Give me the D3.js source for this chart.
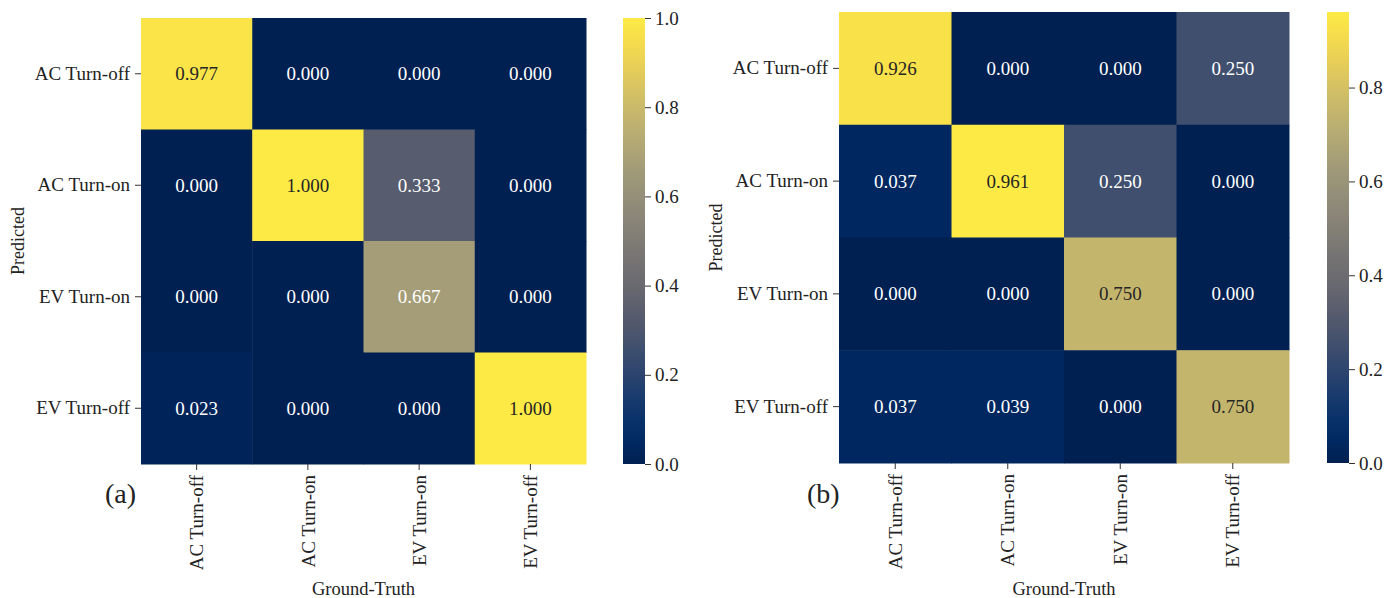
<!DOCTYPE html>
<html>
<head>
<meta charset="utf-8">
<script src="https://cdn.jsdelivr.net/npm/d3@7"></script>
<style>
  body { margin: 0; background: #fff; }
  svg text { font-family: "Liberation Serif", "Times New Roman", serif; fill: #222; }
</style>
</head>
<body>
<svg id="viz" width="1400" height="598"></svg>
<script>
// class labels (same for both axes)
var classes = ["AC Turn-off", "AC Turn-on", "EV Turn-on", "EV Turn-off"];

// rows = predicted, columns = ground truth
var matrixA = [
  [0.977, 0.000, 0.000, 0.000],
  [0.000, 1.000, 0.333, 0.000],
  [0.000, 0.000, 0.667, 0.000],
  [0.023, 0.000, 0.000, 1.000]
];
var matrixB = [
  [0.926, 0.000, 0.000, 0.250],
  [0.037, 0.961, 0.250, 0.000],
  [0.000, 0.000, 0.750, 0.000],
  [0.037, 0.039, 0.000, 0.750]
];

var ticksA = [0.0, 0.2, 0.4, 0.6, 0.8, 1.0];
var ticksB = [0.0, 0.2, 0.4, 0.6, 0.8];

const svg = d3.select("#viz");

function textColor(c) {
  // same rule as seaborn: dark text on light cells
  var rgb = d3.rgb(c);
  var lin = [rgb.r, rgb.g, rgb.b].map(function(v) {
    v = v / 255;
    return v <= 0.03928 ? v / 12.92 : Math.pow((v + 0.055) / 1.055, 2.4);
  });
  var lum = 0.2126 * lin[0] + 0.7152 * lin[1] + 0.0722 * lin[2];
  return lum > 0.408 ? "#262626" : "#ffffff";
}

function drawHeatmap(data, opts) {
  const g = svg.append("g");
  var vmax = d3.max(data.flat());

  const color = d3.scaleSequential(d3.interpolateCividis).domain([0, vmax]);

  const x = d3.scaleBand().domain(classes).range([opts.x0, opts.x1]);
  const y = d3.scaleBand().domain(classes).range([opts.y0, opts.y1]);

  // cells
  data.forEach(function(row, i) {
    row.forEach(function(v, j) {
      g.append("rect")
        .attr("x", x(classes[j]))
        .attr("y", y(classes[i]))
        .attr("width", x.bandwidth() + 0.5)
        .attr("height", y.bandwidth() + 0.5)
        .attr("fill", color(v));
      g.append("text")
        .attr("x", x(classes[j]) + x.bandwidth() / 2)
        .attr("y", y(classes[i]) + y.bandwidth() / 2)
        .attr("text-anchor", "middle")
        .attr("dominant-baseline", "central")
        .style("font-size", "19px")
        .style("fill", textColor(color(v)))
        .text(v.toFixed(3));
    });
  });

  // axes
  const xAxis = g.append("g")
    .attr("transform", `translate(0,${opts.y1})`)
    .call(d3.axisBottom(x).tickSize(6).tickPadding(4));
  xAxis.select(".domain").remove();
  xAxis.selectAll("text")
    .attr("transform", "rotate(-90)")
    .attr("text-anchor", "end")
    .attr("x", -11)
    .attr("y", 0)
    .attr("dy", "0.35em")
    .style("font-size", "19px")
    .style("font-family", "Liberation Serif")
    .style("fill", "#222");

  const yAxis = g.append("g")
    .attr("transform", `translate(${opts.x0},0)`)
    .call(d3.axisLeft(y).tickSize(6).tickPadding(5));
  yAxis.select(".domain").remove();
  yAxis.selectAll("text")
    .style("font-size", "19px")
    .style("font-family", "Liberation Serif")
    .style("fill", "#222");
  g.selectAll(".tick line").attr("stroke", "#333");

  // axis titles
  g.append("text")
    .attr("x", (opts.x0 + opts.x1) / 2)
    .attr("y", 595)
    .attr("text-anchor", "middle")
    .style("font-size", "18.5px")
    .text("Ground-Truth");
  g.append("text")
    .attr("transform", `translate(${opts.ylabX},${(opts.y0 + opts.y1) / 2}) rotate(-90)`)
    .attr("text-anchor", "middle")
    .attr("dominant-baseline", "central")
    .style("font-size", "18px")
    .text("Predicted");

  // panel letter
  g.append("text")
    .attr("x", opts.letterX)
    .attr("y", 503)
    .style("font-size", "28px")
    .text(opts.letter);

  // colorbar
  const gradId = "grad" + opts.letter.replace(/\W/g, "");
  const grad = svg.append("defs").append("linearGradient")
    .attr("id", gradId)
    .attr("x1", 0).attr("y1", 1).attr("x2", 0).attr("y2", 0);
  d3.range(0, 1.0001, 0.05).forEach(function(t) {
    grad.append("stop")
      .attr("offset", t)
      .attr("stop-color", d3.interpolateCividis(t));
  });

  const cb = d3.scaleLinear().domain([0, vmax]).range([opts.y1, opts.y0]);
  g.append("rect")
    .attr("x", opts.cbX)
    .attr("y", opts.y0)
    .attr("width", 22)
    .attr("height", opts.y1 - opts.y0)
    .attr("fill", `url(#${gradId})`);

  const cAxis = g.append("g")
    .attr("transform", `translate(${opts.cbX + 22},0)`)
    .call(d3.axisRight(cb).tickValues(opts.ticks).tickFormat(d3.format(".1f")).tickSize(6).tickPadding(4));
  cAxis.select(".domain").remove();
  cAxis.selectAll("text")
    .style("font-size", "19px")
    .style("font-family", "Liberation Serif")
    .style("fill", "#222");
  cAxis.selectAll("line").attr("stroke", "#333");
}

drawHeatmap(matrixA, {
  x0: 141, x1: 586, y0: 18, y1: 464,
  cbX: 623, ticks: ticksA, ylabX: 18, letter: "(a)", letterX: 105
});

drawHeatmap(matrixB, {
  x0: 839, x1: 1289, y0: 12, y1: 463,
  cbX: 1327, ticks: ticksB, ylabX: 716, letter: "(b)", letterX: 807
});
</script>
</body>
</html>
